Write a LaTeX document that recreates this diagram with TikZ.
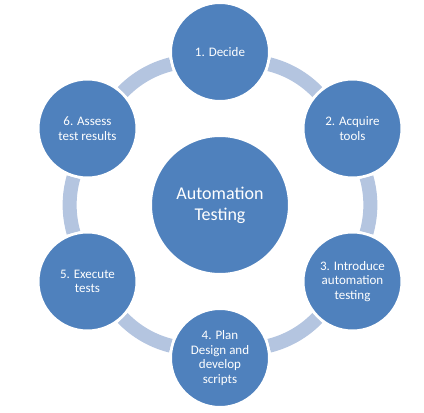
\documentclass[tikz,border=0pt]{standalone}
\usepackage{fontspec}
\setmainfont{Carlito}
\usetikzlibrary{backgrounds}
\definecolor{stepblue}{RGB}{79,129,189}
\definecolor{ringblue}{RGB}{180,197,224}

\begin{document}
\begin{tikzpicture}[x=0.75pt, y=0.75pt,
    stepnode/.style={circle, fill=stepblue, draw=white, line width=2pt, minimum size=74pt, inner sep=0pt,
      align=center, text=white, font=\fontsize{9.75}{10.9}\selectfont},
    ring/.style={draw=ringblue, line width=10.5pt, looseness=0.87}]
  \useasboundingbox (-220,-208) rectangle (204,205);  %page

  \node[stepnode, minimum size=104pt, font=\fontsize{13.5}{16}\selectfont] (core) at (0,0) {Automation\\Testing};

  \foreach \ang/\nm/\txt in {90/decide/{1. Decide}, 30/acquire/{2. Acquire\\tools},
      -30/introduce/{3. Introduce\\automation\\testing}, -90/plan/{4. Plan\\Design and\\develop\\scripts},
      210/execute/{5. Execute\\tests}, 150/assess/{6. Assess\\test results}}
    \node[stepnode] (\nm) at (\ang:153) {\txt};

  \begin{scope}[on background layer]  %ring behind the steps
    \foreach \p/\q in {decide/acquire, acquire/introduce, introduce/plan, plan/execute, execute/assess, assess/decide}
      \draw[ring] (\p) to[bend left=16] (\q);
  \end{scope}
\end{tikzpicture}
\end{document}
